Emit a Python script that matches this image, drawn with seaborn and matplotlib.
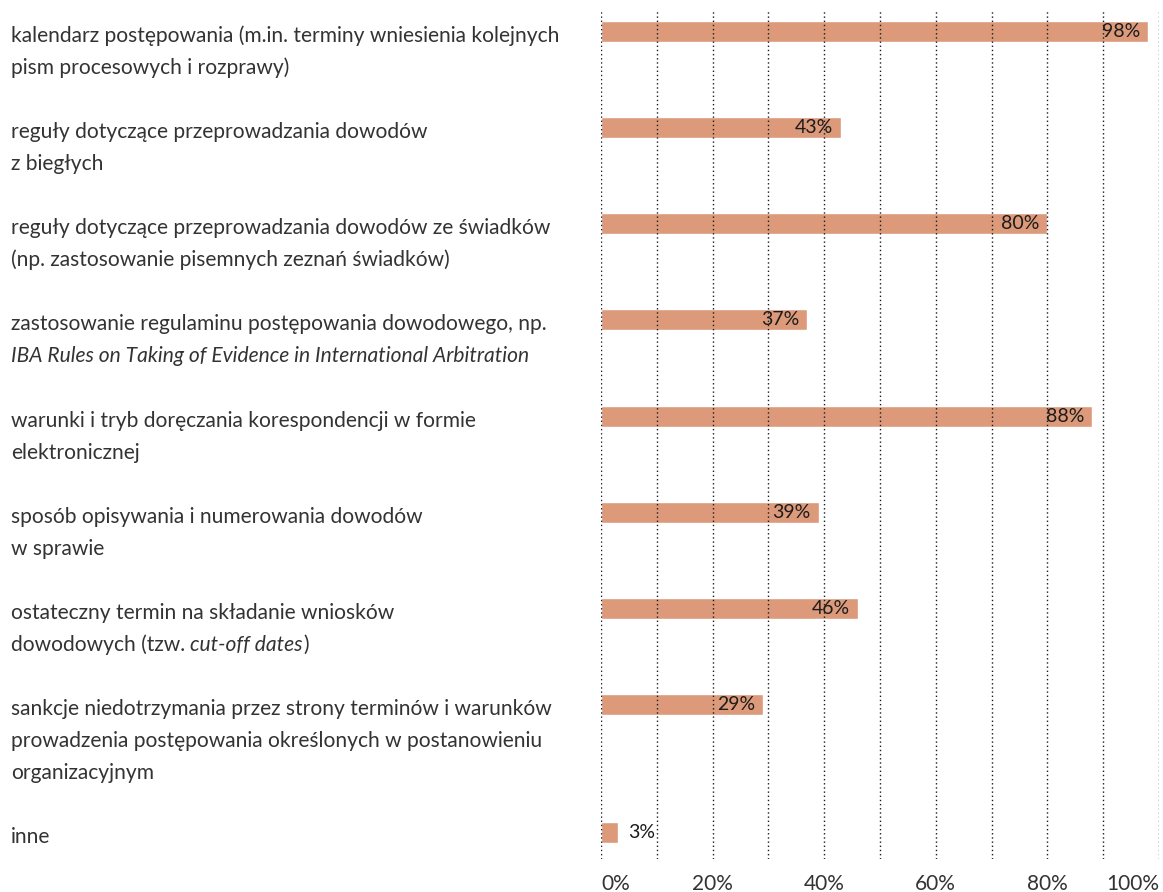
import matplotlib
matplotlib.use("Agg")
import matplotlib.pyplot as plt
import seaborn as sns
import pandas as pd
import numpy as np
from matplotlib.transforms import blended_transform_factory, offset_copy

# Survey answers: share of respondents (%) per item of the procedural order.
# Text between underscores is set in italics.
categories = [
    "kalendarz postępowania (m.in. terminy wniesienia kolejnych\npism procesowych i rozprawy)",
    "reguły dotyczące przeprowadzania dowodów\nz biegłych",
    "reguły dotyczące przeprowadzania dowodów ze świadków\n(np. zastosowanie pisemnych zeznań świadków)",
    "zastosowanie regulaminu postępowania dowodowego, np.\n_IBA Rules on Taking of Evidence in International Arbitration_",
    "warunki i tryb doręczania korespondencji w formie\nelektronicznej",
    "sposób opisywania i numerowania dowodów\nw sprawie",
    "ostateczny termin na składanie wniosków\ndowodowych (tzw. _cut-off dates_)",
    "sankcje niedotrzymania przez strony terminów i warunków\nprowadzenia postępowania określonych w postanowieniu\norganizacyjnym",
    "inne",
]
shares = [98, 43, 80, 37, 88, 39, 46, 29, 3]
tick_values = [0, 20, 40, 60, 80, 100]
tick_labels = ["0%", "20%", "40%", "60%", "80%", "100%"]

BAR_COLOR = "#DC9A7A"
TEXT_COLOR = "#333333"
VALUE_COLOR = "#1c1c1c"
GRID_COLOR = "#1a1a1a"
LABEL_WEIGHT = "normal"

W, H, DPI = 1163, 892, 100
ROW_PX = 96.14          # distance between consecutive rows
LINE_PX = 32.0          # line height of the category labels
BAR_PX = 21.0

sns.set_theme(style="white")
plt.rcParams["font.family"] = ["Lato", "DejaVu Sans"]

# Rows are spaced evenly; labels longer than two lines push the next row down.
line_counts = [c.count("\n") + 1 for c in categories]
positions = []
p = 0.0
for i, n in enumerate(line_counts):
    positions.append(p)
    p += 1 + max(0, n - 2) * LINE_PX / ROW_PX

df = pd.DataFrame({"share": shares, "pos": positions})

fig = plt.figure(figsize=(W / DPI, H / DPI), dpi=DPI)
ax_left, ax_right, ax_top, ax_bottom = 601, 1159, 10, 859
ax = fig.add_axes([ax_left / W, 1 - ax_bottom / H,
                   (ax_right - ax_left) / W, (ax_bottom - ax_top) / H])

sns.barplot(data=df, x="share", y="pos", orient="h", native_scale=True,
            width=BAR_PX / ROW_PX, color=BAR_COLOR, saturation=1,
            errorbar=None, ax=ax, zorder=1)

row0_px = 31.5
ax.set_ylim((ax_bottom - row0_px) / ROW_PX, (ax_top - row0_px) / ROW_PX)
ax.set_xlim(0, 100)
ax.set_ylabel("")
ax.set_xlabel("")
ax.set_yticks([])
for s in ax.spines.values():
    s.set_visible(False)

# Dotted vertical grid every 10 %, drawn over the bars.
ax.set_xticks(tick_values)
ax.set_xticklabels(tick_labels, fontweight=LABEL_WEIGHT)
ax.set_xticks(np.arange(0, 101, 10), minor=True)
ax.grid(axis="x", which="both", linestyle=(0, (1, 2)), color=GRID_COLOR,
        linewidth=1.0, zorder=3)
ax.set_axisbelow(False)
ax.tick_params(axis="x", which="both", length=0, pad=11, labelsize=15,
               labelcolor=TEXT_COLOR)
xt = ax.get_xticklabels()
xt[0].set_ha("left")
xt[-1].set_ha("right")

# Value labels at the bar ends.
for v, y in zip(shares, positions):
    if v < 10:
        ax.annotate(f"{v}%", xy=(v, y), xytext=(10, 0), textcoords="offset pixels",
                    ha="left", va="center", fontsize=14, color=VALUE_COLOR, zorder=4)
    else:
        ax.annotate(f"{v}%", xy=(v, y), xytext=(-8, 0), textcoords="offset pixels",
                    ha="right", va="center", fontsize=14, color=VALUE_COLOR, zorder=4)

# Category labels on the left, one text per styled segment.
renderer = fig.canvas.get_renderer()


def text_width(s, size, style):
    t = fig.text(0, 0, s, fontsize=size, style=style, fontweight=LABEL_WEIGHT)
    w = t.get_window_extent(renderer).width
    t.remove()
    return w


first_line = categories[0].split("\n")[0]
label_size = 14 * 551.0 / text_width(first_line, 14, "normal")

base = blended_transform_factory(fig.transFigure, ax.transData)
x0 = 11 / W
baseline_off = BAR_PX / 2

for cat, y in zip(categories, positions):
    for j, line in enumerate(cat.split("\n")):
        parts = line.split("_")
        x_off = 0.0
        for k, seg in enumerate(parts):
            if not seg:
                continue
            style = "italic" if k % 2 == 1 else "normal"
            lead = len(seg) - len(seg.lstrip(" "))
            trail = len(seg) - len(seg.rstrip(" "))
            core = seg.strip(" ")
            space_w = (text_width("n n", label_size, style)
                       - text_width("nn", label_size, style))
            x_off += lead * space_w
            tr = offset_copy(base, fig=fig, x=x_off,
                             y=-(baseline_off + LINE_PX * j), units="dots")
            fig.text(x0, y, core, transform=tr, fontsize=label_size,
                     style=style, fontweight=LABEL_WEIGHT, color=TEXT_COLOR,
                     ha="left", va="baseline")
            x_off += text_width(core, label_size, style) + trail * space_w

fig.savefig("out.png", dpi=DPI, facecolor="white")
